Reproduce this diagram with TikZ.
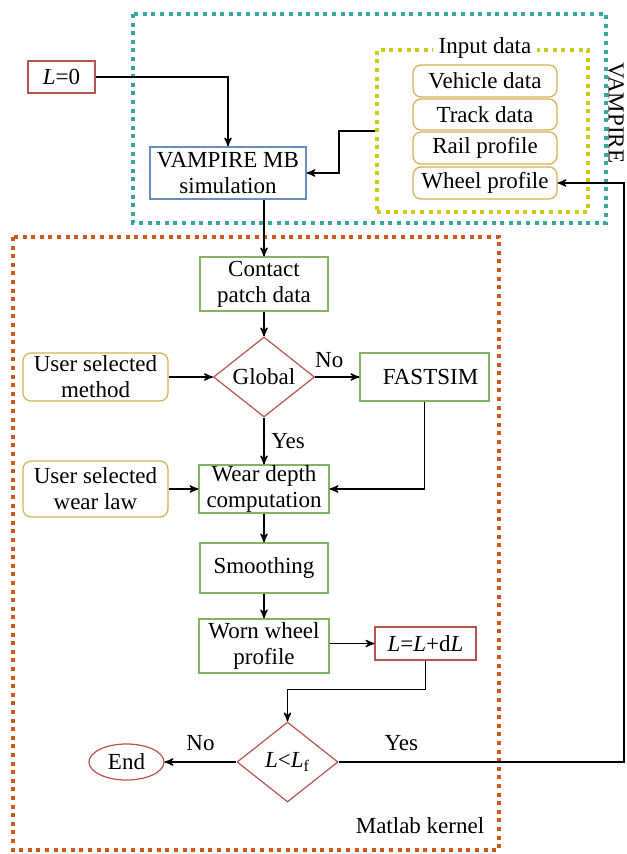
\documentclass[tikz,border=0pt]{standalone}
\usepackage{fontspec}
\setmainfont{Liberation Serif}
\usetikzlibrary{arrows}
\usetikzlibrary{shapes.geometric}
\definecolor{redline}{RGB}{184,84,80}
\definecolor{greenline}{RGB}{130,179,102}
\definecolor{blueline}{RGB}{108,142,191}
\definecolor{tanline}{RGB}{214,176,86}
\definecolor{tealdot}{RGB}{58,166,160}
\definecolor{yellowdot}{RGB}{204,204,26}
\definecolor{orangedot}{RGB}{210,88,30}
\tikzset{
 box/.style={draw, rectangle, inner sep=0, align=center, line width=0.6pt},
 redbox/.style={box, draw=redline},
 greenbox/.style={box, draw=greenline},
 bluebox/.style={box, draw=blueline},
 userbox/.style={box, draw=tanline, rounded corners=4pt},
 decision/.style={draw=redline, diamond, inner sep=0, line width=0.6pt, minimum width=50.5pt, minimum height=40pt},
 frame/.style={line width=2pt, dash pattern=on 2pt off 2.3pt},
 link/.style={black, line width=0.65pt, ->, >=stealth'}
}
\begin{document}
\begin{tikzpicture}[x=0.5pt, y=-0.5pt, font=\fontsize{11.5}{13}\selectfont]
\useasboundingbox (0,0) rectangle (626,854);
% frames
\draw[frame, tealdot] (133,14) rectangle (606,223);
\draw[frame, orangedot] (13,237) rectangle (499,850);
\node[draw=yellowdot, frame, rectangle, minimum width=105.5pt, minimum height=81pt] (input) at (482.5,131) {};
\node[fill=white, inner xsep=3pt, inner ysep=0] at (485,48) {Input data};
\node[rotate=-90, inner sep=1pt] (vampire) at (616,113) {VAMPIRE};
\node at (420,826) {Matlab kernel};
% input data
\node[userbox, minimum width=72pt, minimum height=16pt] (vehicle) at (485,81) {Vehicle data};
\node[userbox, minimum width=72pt, minimum height=15.5pt] (track) at (485,114.5) {Track data};
\node[userbox, minimum width=72pt, minimum height=16pt] (rail) at (485,148) {Rail profile};
\node[userbox, minimum width=72pt, minimum height=16pt] (wheel) at (485,183) {Wheel profile};
% nodes
\node[redbox, minimum width=33.5pt, minimum height=16pt] (lzero) at (61.5,77) {\textit{L}=0};
\node[bluebox, minimum width=78pt, minimum height=26pt] (mb) at (228,173) {VAMPIRE MB\\simulation};
\node[greenbox, minimum width=64pt, minimum height=27pt] (contact) at (264,284) {Contact\\patch data};
\node[decision] (global) at (264,377) {Global};
\node[userbox, minimum width=72.5pt, minimum height=24pt] (method) at (95.5,377) {User selected\\method};
\node[greenbox, minimum width=64.5pt, minimum height=24pt] (fastsim) at (424.5,377) {\hspace{6pt}FASTSIM};
\node[greenbox, minimum width=65pt, minimum height=24pt] (wear) at (264,489) {Wear depth\\computation};
\node[userbox, minimum width=72.5pt, minimum height=28pt] (law) at (95.5,489) {User selected\\wear law};
\node[greenbox, minimum width=64pt, minimum height=25pt] (smooth) at (264,568) {Smoothing};
\node[greenbox, minimum width=65pt, minimum height=27pt] (worn) at (264,646) {Worn wheel\\profile};
\node[redbox, minimum width=50.5pt, minimum height=16.5pt] (ldl) at (425.5,643.5) {\textit{L}=\textit{L}+d\textit{L}};
\node[decision] (lf) at (287.5,762) {\textit{L}<\textit{L}\textsubscript{f}};
\node[draw=redline, ellipse, inner sep=0, line width=0.6pt, minimum width=37.5pt, minimum height=18pt] (end) at (126.5,762) {End};
% connectors
\draw[link] (lzero.east) -| (mb.north);
\draw[link] (input.west) -- ++(-36,0) |- (mb.east);
\draw[link] (mb.south -| contact.north) -- (contact.north);
\draw[link] (contact.south) -- (global.north);
\draw[link] (method.east) -- (global.west);
\draw[link] (global.east) -- node[above, xshift=-4pt, yshift=1pt]{No} (fastsim.west);
\draw[link] (global.south) -- node[right]{Yes} (wear.north);
\draw[link] (law.east) -- (wear.west);
\draw[link] (fastsim.south) |- (wear.east);
\draw[link] (wear.south) -- (smooth.north);
\draw[link] (smooth.south) -- (worn.north);
\draw[link] (ldl.west -| worn.east) -- (ldl.west);
\draw[link] (ldl.south) -- ++(0,29) -| (lf.north);
\draw[link] (lf.west) -- node[above, yshift=2pt]{No} (end.east);
\draw[link] (lf.east) -- node[above, pos=0.22, yshift=2pt]{Yes} (624,762) |- (wheel.east);
\end{tikzpicture}
\end{document}
